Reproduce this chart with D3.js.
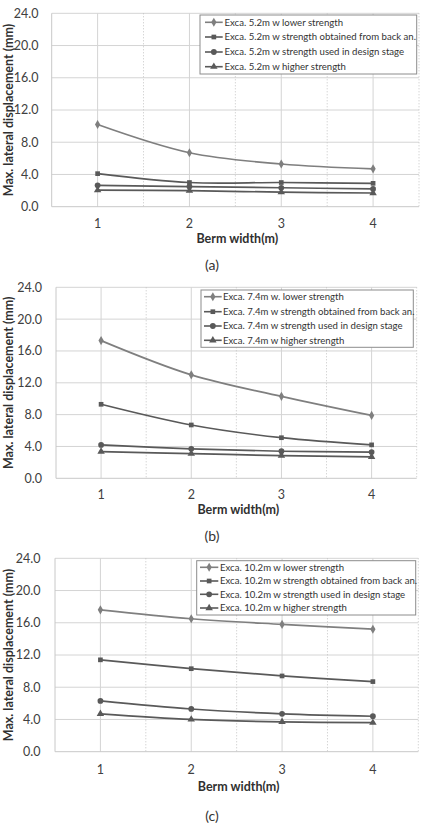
<!DOCTYPE html>
<html>
<head>
<meta charset="utf-8">
<script src="https://cdn.jsdelivr.net/npm/d3@7/dist/d3.min.js"></script>
<style>
  html, body { margin: 0; padding: 0; background: #fff; }
  svg { display: block; }
  text { font-family: Lato, "Open Sans", sans-serif; }
</style>
</head>
<body>
<svg id="chart" width="424" height="823"></svg>
<script>
// ---------- DATA ----------
const categories = [1, 2, 3, 4];
const yTicks = [0, 4, 8, 12, 16, 20, 24];
const yDomain = [0, 24];
const xAxisTitle = "Berm width(m)";
const yAxisTitle = "Max. lateral displacement (mm)";
const captions = ["(a)", "(b)", "(c)"];
const markerTypes = ["diamond", "square", "circle", "triangle"];

const namesA = [
  "Exca. 5.2m w lower strength",
  "Exca. 5.2m w strength obtained from back an.",
  "Exca. 5.2m w strength used in design stage",
  "Exca. 5.2m w higher strength"
];
const lowerA  = [10.2, 6.7, 5.3, 4.7];
const backA   = [4.1, 3.0, 3.0, 2.9];
const designA = [2.65, 2.5, 2.35, 2.2];
const higherA = [2.05, 2.0, 1.8, 1.7];

const namesB = [
  "Exca. 7.4m w. lower strength",
  "Exca. 7.4m w strength obtained from back an.",
  "Exca. 7.4m w strength used in design stage",
  "Exca. 7.4m w higher strength"
];
const lowerB  = [17.3, 13.0, 10.3, 7.9];
const backB   = [9.3, 6.7, 5.1, 4.2];
const designB = [4.2, 3.7, 3.4, 3.3];
const higherB = [3.35, 3.1, 2.85, 2.7];

const namesC = [
  "Exca. 10.2m w lower strength",
  "Exca. 10.2m w strength obtained from back an.",
  "Exca. 10.2m w strength used in design stage",
  "Exca. 10.2m w higher strength"
];
const lowerC  = [17.6, 16.5, 15.8, 15.2];
const backC   = [11.4, 10.3, 9.4, 8.7];
const designC = [6.3, 5.3, 4.7, 4.4];
const higherC = [4.7, 4.0, 3.7, 3.6];

// ---------- LAYOUT ----------
const panels = [
  { names: namesA, series: [lowerA, backA, designA, higherA], caption: captions[0],
    left: 51.7, right: 419, top: 13.3, bottom: 206.7, labelRight: 38.5, yTitleX: 8.5,
    xTickY: 224, xTitleY: 239, capY: 265,
    leg: { x0: 200, x1: 416.7, y0: 15, y1: 74, rows: [22.3, 37, 52, 66.7], lx0: 205, lx1: 222.7, tx: 224.5 } },
  { names: namesB, series: [lowerB, backB, designB, higherB], caption: captions[1],
    left: 56, right: 416.7, top: 287.3, bottom: 478.3, labelRight: 42, yTitleX: 8.5,
    xTickY: 495, xTitleY: 510, capY: 535.7,
    leg: { x0: 201, x1: 413.3, y0: 290, y1: 347.3, rows: [296.7, 311.7, 326, 340.3], lx0: 204, lx1: 221.7, tx: 223 } },
  { names: namesC, series: [lowerC, backC, designC, higherC], caption: captions[2],
    left: 55, right: 418.3, top: 558.3, bottom: 751.7, labelRight: 40.5, yTitleX: 8.5,
    xTickY: 769.3, xTitleY: 786.7, capY: 816,
    leg: { x0: 196.7, x1: 415.7, y0: 560.7, y1: 615, rows: [567.3, 581, 594.3, 608], lx0: 200, lx1: 218.3, tx: 220 } }
];

const seriesColors = ["#7f7f7f", "#595959", "#595959", "#595959"];
const svg = d3.select("#chart");

function markerPath(type) {
  const sym = { diamond: d3.symbolDiamond, square: d3.symbolSquare, circle: d3.symbolCircle, triangle: d3.symbolTriangle }[type];
  const size = { diamond: 24, square: 22, circle: 26, triangle: 24 }[type];
  return d3.symbol().type(sym).size(size)();
}

panels.forEach(p => {
  const g = svg.append("g");
  const x = d3.scaleBand().domain(categories).range([p.left, p.right]).padding(0);
  const y = d3.scaleLinear().domain(yDomain).range([p.bottom, p.top]);
  const cx = d => x(d) + x.bandwidth() / 2;

  // horizontal gridlines
  g.append("g").selectAll("line").data(yTicks.filter(t => t > 0)).join("line")
    .attr("x1", p.left).attr("x2", p.right)
    .attr("y1", d => y(d)).attr("y2", d => y(d))
    .attr("stroke", "#d4d4d4").attr("stroke-width", 1);

  // vertical solid gridlines at categories
  g.append("g").selectAll("line").data(categories).join("line")
    .attr("x1", cx).attr("x2", cx)
    .attr("y1", p.top).attr("y2", p.bottom)
    .attr("stroke", "#d4d4d4").attr("stroke-width", 1);

  // vertical dotted lines at band boundaries
  g.append("g").selectAll("line").data(categories.slice(1).concat(["end"])).join("line")
    .attr("x1", d => d === "end" ? p.right : x(d)).attr("x2", d => d === "end" ? p.right : x(d))
    .attr("y1", p.top).attr("y2", p.bottom)
    .attr("stroke", "#c4c4c4").attr("stroke-width", 1).attr("stroke-dasharray", "1,2");

  // left axis line and bottom axis
  g.append("line").attr("x1", p.left).attr("x2", p.left).attr("y1", p.top).attr("y2", p.bottom)
    .attr("stroke", "#c8c8c8");
  g.append("line").attr("x1", p.left).attr("x2", p.right).attr("y1", p.bottom).attr("y2", p.bottom)
    .attr("stroke", "#c8c8c8");

  // y tick labels
  g.append("g").selectAll("text").data(yTicks).join("text")
    .attr("x", p.labelRight).attr("y", d => y(d)).attr("dy", "0.35em")
    .attr("text-anchor", "end").attr("font-size", 12.5).attr("fill", "#404040")
    .text(d3.format(".1f"));

  // x tick labels
  g.append("g").selectAll("text").data(categories).join("text")
    .attr("x", cx).attr("y", p.xTickY).attr("dy", "0.35em")
    .attr("text-anchor", "middle").attr("font-size", 12.5).attr("fill", "#404040")
    .text(d => d);

  // axis titles
  g.append("text").attr("x", (p.left + p.right) / 2 + 2).attr("y", p.xTitleY).attr("dy", "0.35em")
    .attr("text-anchor", "middle").attr("font-size", 12.5).attr("font-weight", "bold").attr("fill", "#303030")
    .text(xAxisTitle);
  g.append("text")
    .attr("transform", `translate(${p.yTitleX},${(p.top + p.bottom) / 2}) rotate(-90)`)
    .attr("dy", "0.35em").attr("text-anchor", "middle")
    .attr("font-size", 12.5).attr("font-weight", "bold").attr("fill", "#303030")
    .text(yAxisTitle);

  // caption
  g.append("text").attr("x", 212).attr("y", p.capY).attr("dy", "0.35em")
    .attr("text-anchor", "middle").attr("font-size", 14).attr("fill", "#333")
    .text(p.caption);

  // series
  const line = d3.line().x((d, i) => cx(categories[i])).y(d => y(d)).curve(d3.curveCatmullRom.alpha(0.5));
  p.series.forEach((vals, si) => {
    const col = seriesColors[si];
    g.append("path").datum(vals).attr("d", line)
      .attr("fill", "none").attr("stroke", col).attr("stroke-width", 1.7);
    g.append("g").selectAll("path").data(vals).join("path")
      .attr("transform", (d, i) => `translate(${cx(categories[i])},${y(d)})`)
      .attr("d", markerPath(markerTypes[si])).attr("fill", col);
  });

  // legend
  const L = p.leg;
  g.append("rect").attr("x", L.x0).attr("y", L.y0).attr("width", L.x1 - L.x0).attr("height", L.y1 - L.y0)
    .attr("fill", "#fff").attr("stroke", "#8c8c8c").attr("stroke-width", 1);
  p.names.forEach((name, si) => {
    const ry = L.rows[si];
    const col = seriesColors[si];
    g.append("line").attr("x1", L.lx0).attr("x2", L.lx1).attr("y1", ry).attr("y2", ry)
      .attr("stroke", col).attr("stroke-width", 1.6);
    g.append("path").attr("transform", `translate(${(L.lx0 + L.lx1) / 2},${ry})`)
      .attr("d", markerPath(markerTypes[si])).attr("fill", col);
    g.append("text").attr("x", L.tx).attr("y", ry).attr("dy", "0.35em")
      .attr("font-size", 9.6).attr("fill", "#333").text(name);
  });
});
</script>
</body>
</html>
